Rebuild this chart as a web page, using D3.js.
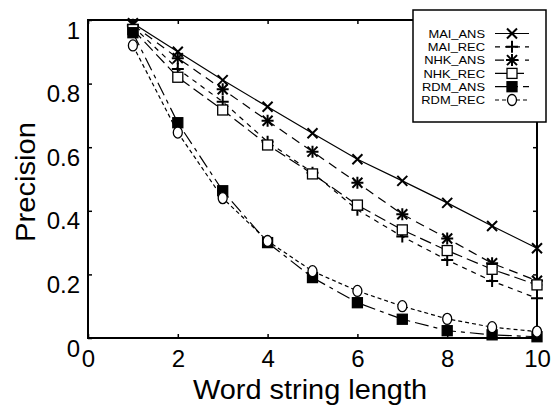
<!DOCTYPE html>
<html>
<head>
<meta charset="utf-8">
<script src="https://cdn.jsdelivr.net/npm/d3@7"></script>
<style>
  body { margin: 0; background: #fff; }
  svg { display: block; font-family: "Liberation Sans", Arial, sans-serif; }
</style>
</head>
<body>
<div id="chart"></div>
<script>
// values
var wordLength = [1, 2, 3, 4, 5, 6, 7, 8, 9, 10];
var maiAns = [0.99, 0.90, 0.811, 0.727, 0.644, 0.562, 0.494, 0.425, 0.352, 0.282];
var maiRec = [0.98, 0.846, 0.743, 0.617, 0.52, 0.403, 0.319, 0.245, 0.179, 0.125];
var nhkAns = [0.985, 0.88, 0.782, 0.683, 0.586, 0.488, 0.389, 0.313, 0.235, 0.18];
var nhkRec = [0.97, 0.82, 0.717, 0.607, 0.516, 0.418, 0.34, 0.275, 0.216, 0.167];
var rdmAns = [0.96, 0.677, 0.463, 0.30, 0.19, 0.111, 0.059, 0.023, 0.01, 0.004];
var rdmRec = [0.92, 0.646, 0.44, 0.305, 0.21, 0.148, 0.10, 0.06, 0.034, 0.02];
var seriesNames = ['MAI_ANS', 'MAI_REC', 'NHK_ANS', 'NHK_REC', 'RDM_ANS', 'RDM_REC'];
var xTickValues = [0, 2, 4, 6, 8, 10];
var yTickValues = [0, 0.2, 0.4, 0.6, 0.8, 1];
var yTickLabels = ['0', '0.2', '0.4', '0.6', '0.8', '1'];

var series = [
    { name: seriesNames[0], values: maiAns, dash: null, marker: 'cross' },
    { name: seriesNames[1], values: maiRec, dash: '5,5', marker: 'plus' },
    { name: seriesNames[2], values: nhkAns, dash: '9,6', marker: 'star' },
    { name: seriesNames[3], values: nhkRec, dash: '12,5', marker: 'square' },
    { name: seriesNames[4], values: rdmAns, dash: '14,5,4,5', marker: 'fsquare' },
    { name: seriesNames[5], values: rdmRec, dash: '4,3', marker: 'circle' }
];

var W = 554, H = 407;
var svg = d3.select('#chart').append('svg').attr('width', W).attr('height', H);

var x = d3.scaleLinear().domain([0, 10]).range([88, 537]);
var y = d3.scaleLinear().domain([0, 1]).range([338, 20]);

// axes with inward ticks
var xAxis = svg.append('g').attr('transform', 'translate(0,338)')
    .call(d3.axisBottom(x).tickValues(xTickValues).tickSizeInner(-4).tickSizeOuter(0).tickPadding(12));
var yAxis = svg.append('g').attr('transform', 'translate(88,0)')
    .call(d3.axisLeft(y).tickValues(yTickValues).tickSizeInner(-4).tickSizeOuter(0).tickPadding(8)
        .tickFormat(function(d, i) { return yTickLabels[i]; }));
svg.append('g').attr('transform', 'translate(0,20)')
    .call(d3.axisTop(x).tickValues(xTickValues).tickSizeInner(-4).tickSizeOuter(0).tickFormat(''));
svg.append('g').attr('transform', 'translate(537,0)')
    .call(d3.axisRight(y).tickValues(yTickValues).tickSizeInner(-4).tickSizeOuter(0).tickFormat(''));

svg.selectAll('.domain').remove();
svg.selectAll('.tick line').attr('stroke', '#000').attr('stroke-width', 1.5);
svg.selectAll('.tick text').attr('fill', '#000').attr('font-size', 24)
    .attr('font-family', '"Liberation Sans", Arial, sans-serif');
yAxis.selectAll('.tick text').attr('dy', '0.75em');
xAxis.selectAll('.tick text').attr('dy', '0.7em');

svg.append('rect')
    .attr('x', x(0)).attr('y', y(1))
    .attr('width', x(10) - x(0)).attr('height', y(0) - y(1))
    .attr('fill', 'none').attr('stroke', '#000').attr('stroke-width', 2);

// axis titles
svg.append('text')
    .attr('x', 310).attr('y', 399)
    .attr('text-anchor', 'middle').attr('font-size', 27)
    .attr('textLength', 234).attr('lengthAdjust', 'spacingAndGlyphs')
    .text('Word string length');
svg.append('text')
    .attr('transform', 'translate(35,182) rotate(-90)')
    .attr('text-anchor', 'middle').attr('font-size', 27)
    .attr('textLength', 120).attr('lengthAdjust', 'spacingAndGlyphs')
    .text('Precision');

function drawMarker(g, type, cx, cy) {
    var s = 5;
    if (type === 'cross' || type === 'star') {
        g.append('path')
            .attr('d', 'M' + (cx - s) + ',' + (cy - s) + 'L' + (cx + s) + ',' + (cy + s) +
                'M' + (cx - s) + ',' + (cy + s) + 'L' + (cx + s) + ',' + (cy - s))
            .attr('stroke', '#000').attr('stroke-width', 2).attr('fill', 'none');
    }
    if (type === 'plus' || type === 'star') {
        g.append('path')
            .attr('d', 'M' + (cx - s - 1) + ',' + cy + 'L' + (cx + s + 1) + ',' + cy +
                'M' + cx + ',' + (cy - s - 1) + 'L' + cx + ',' + (cy + s + 1))
            .attr('stroke', '#000').attr('stroke-width', 2).attr('fill', 'none');
    }
    if (type === 'square' || type === 'fsquare') {
        g.append('rect')
            .attr('x', cx - 5).attr('y', cy - 5).attr('width', 10).attr('height', 10)
            .attr('fill', type === 'fsquare' ? '#000' : '#fff')
            .attr('stroke', '#000').attr('stroke-width', 1.3);
    }
    if (type === 'circle') {
        g.append('ellipse')
            .attr('cx', cx).attr('cy', cy).attr('rx', 4.5).attr('ry', 5.5)
            .attr('fill', '#fff').attr('stroke', '#000').attr('stroke-width', 1.3);
    }
}

var line = d3.line()
    .x(function(d, i) { return x(wordLength[i]); })
    .y(function(d) { return y(d); });

series.forEach(function(s) {
    var g = svg.append('g');
    g.append('path')
        .attr('d', line(s.values))
        .attr('fill', 'none').attr('stroke', '#000').attr('stroke-width', 1.2)
        .attr('stroke-dasharray', s.dash);
    s.values.forEach(function(v, i) {
        drawMarker(g, s.marker, x(wordLength[i]), y(v));
    });
});

// legend
var legend = svg.append('g');
legend.append('rect')
    .attr('x', 413).attr('y', 10).attr('width', 133).attr('height', 112)
    .attr('fill', '#fff').attr('stroke', '#000').attr('stroke-width', 1.5);
series.forEach(function(s, i) {
    var cy = 33.5 + i * 13.3;
    var t = legend.append('text')
        .attr('x', 485).attr('y', cy).attr('dy', '0.36em')
        .attr('text-anchor', 'end').attr('font-size', 11.5)
        .text(s.name);
    // widen glyphs a bit to match the reference width
    var w = t.node().getComputedTextLength();
    t.attr('textLength', w * 1.12).attr('lengthAdjust', 'spacingAndGlyphs');
    legend.append('line')
        .attr('x1', 495).attr('x2', 529).attr('y1', cy).attr('y2', cy)
        .attr('stroke', '#000').attr('stroke-width', 1.2)
        .attr('stroke-dasharray', s.dash);
    drawMarker(legend, s.marker, 512, cy);
});
</script>
</body>
</html>
